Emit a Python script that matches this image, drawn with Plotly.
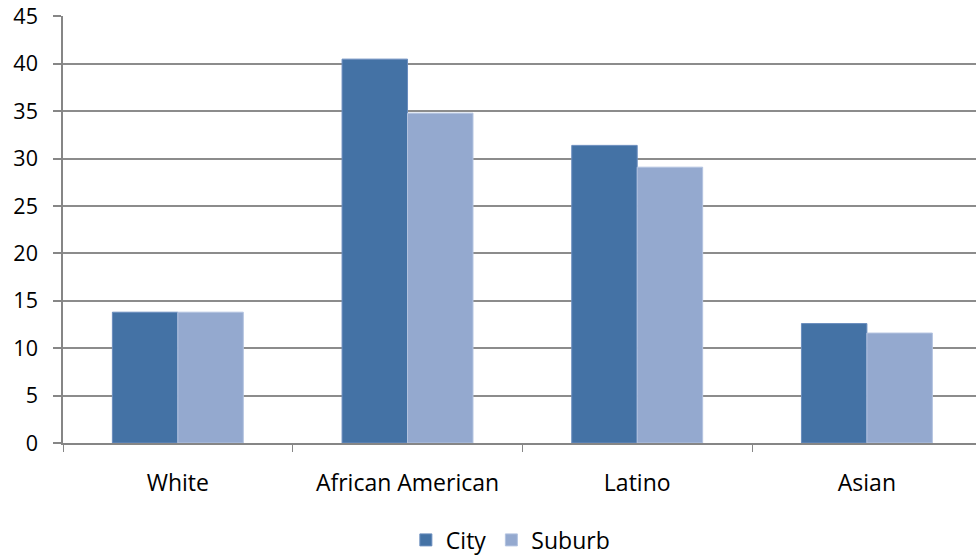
import plotly.graph_objects as go

categories = ["White", "African American", "Latino", "Asian"]
city = [13.8, 40.5, 31.4, 12.6]
suburb = [13.8, 34.8, 29.1, 11.6]
y_ticks = [0, 5, 10, 15, 20, 25, 30, 35, 40, 45]

FONT = "Open Sans"
FS = 23
fig = go.Figure()
fig.add_trace(go.Bar(name="City", x=categories, y=city,
                     marker=dict(color="#4472A5", line=dict(color="#6A8DBE", width=1))))
fig.add_trace(go.Bar(name="Suburb", x=categories, y=suburb,
                     marker=dict(color="#94A9CF", line=dict(color="#B3C3E0", width=1))))

fig.update_layout(
    width=976, height=557,
    margin=dict(l=63, r=0, t=16, b=114, autoexpand=False),
    paper_bgcolor="white", plot_bgcolor="white",
    barmode="group", bargap=0.43, bargroupgap=0,
    font=dict(family=FONT, size=FS, color="#000000"),
    showlegend=True,
    legend=dict(orientation="h", x=0.49, xanchor="center", y=-0.227, yanchor="middle",
                font=dict(size=FS), itemwidth=30, traceorder="normal"),
)
fig.update_xaxes(
    range=[-0.5, 3.475], showgrid=False, automargin=False,
    showline=True, linecolor="#868686", linewidth=2,
    ticks="outside", tickson="boundaries", ticklen=7, tickcolor="#868686", tickwidth=1,
    tickfont=dict(family=FONT, size=FS), ticklabelstandoff=18,
)
fig.update_yaxes(
    range=[0, 45.05], tickvals=y_ticks, automargin=False,
    showgrid=True, gridcolor="#8C8C8C", gridwidth=1.5,
    showline=True, linecolor="#868686", linewidth=1.5,
    ticks="outside", ticklen=8, tickcolor="#868686", tickwidth=1.5,
    tickfont=dict(family=FONT, size=21.5), ticklabelstandoff=11,
    zeroline=False,
)
fig.write_html("out.html")
